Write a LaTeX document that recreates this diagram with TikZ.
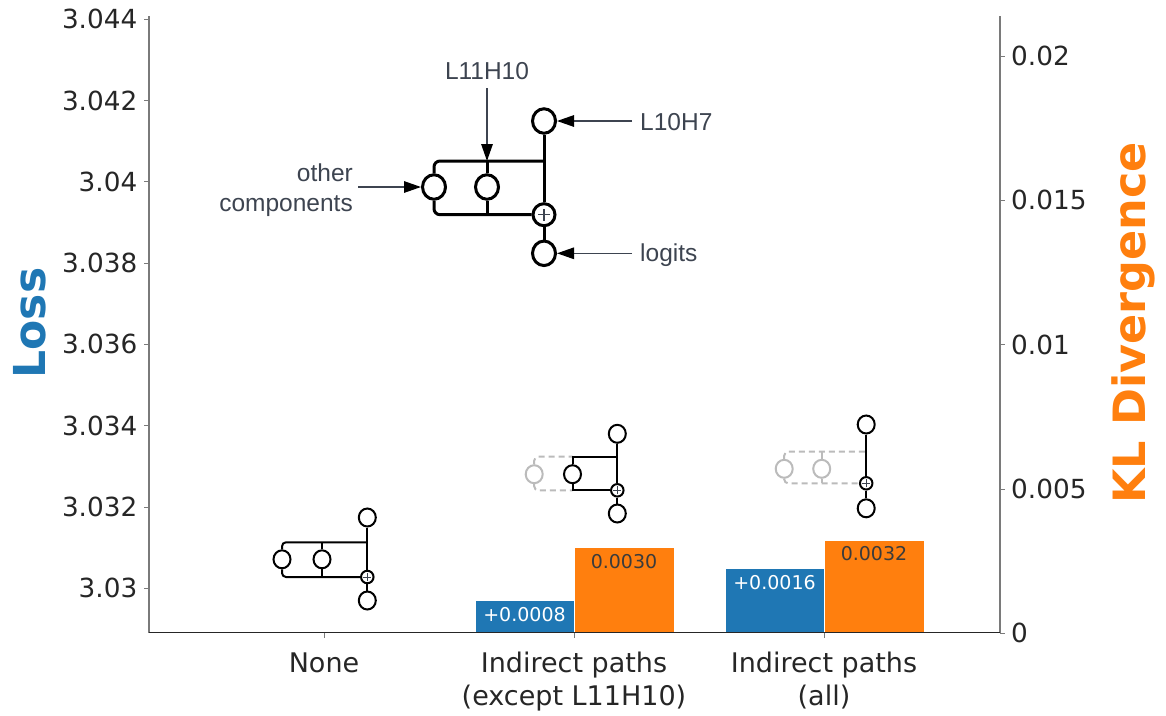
\documentclass[tikz,border=0pt]{standalone}
\usepackage{fontspec}
\setmainfont{DejaVu Sans}
\newfontfamily\diagfont{Liberation Sans}
\usetikzlibrary{shapes.geometric,arrows.meta}

\definecolor{lossblue}{HTML}{1F77B4}
\definecolor{klorange}{HTML}{FF7F0E}
\definecolor{ticktext}{HTML}{262626}
\definecolor{spine}{HTML}{7A7A7A}
\definecolor{ghost}{HTML}{BBBBBB}
\definecolor{annot}{HTML}{3D4450}
\definecolor{barlbl}{HTML}{3B3B3B}

\tikzset{
  spineline/.style={draw=spine, line width=1.1pt},
  baseline axis/.style={draw=ticktext, line width=1.1pt},
  tickmark/.style={draw=spine, line width=1pt},
  ticklbl/.style={text=ticktext, font=\fontsize{26.3}{31}\selectfont, inner sep=0pt},
  catlbl/.style={text=ticktext, font=\fontsize{27}{32}\selectfont, inner sep=0pt, anchor=base},
  barlabel/.style={font=\fontsize{19}{23}\selectfont, inner sep=0pt},
  barbox/.style={draw=white, line width=1pt},
  bigcomp/.style={draw=black, fill=white, ellipse, line width=3pt, minimum width=23pt, minimum height=24.5pt, inner sep=0pt},
  bigadd/.style={draw=black, fill=white, circle, line width=3pt, minimum size=22pt, inner sep=0pt},
  bigwire/.style={draw=black, line width=3pt},
  smallcomp/.style={draw=black, fill=white, ellipse, line width=2pt, minimum width=17pt, minimum height=18pt, inner sep=0pt},
  smalladd/.style={draw=black, fill=white, circle, line width=2pt, minimum size=12.5pt, inner sep=0pt},
  smallwire/.style={draw=black, line width=2pt},
  ghostcomp/.style={smallcomp, draw=ghost},
  ghostwire/.style={draw=ghost, line width=2pt, dash pattern=on 6pt off 4pt},
  ghoststub/.style={draw=ghost, line width=2pt},
  addmark/.style={draw=annot, line width=1.3pt},
  callout/.style={draw=annot, line width=1.4pt, -{Triangle[length=17pt,width=11.5pt,color=black]}},
  annotlbl/.style={text=annot, font=\diagfont\fontsize{24.5}{29}\selectfont, inner sep=0pt},
}

\begin{document}
\begin{tikzpicture}[x=1pt,y=-1pt]
\useasboundingbox (0,0) rectangle (1166,715);

% ---- bars ----
\fill[lossblue]  (475,632.7) rectangle (574,600.7);
\draw[barbox]    (475,632.7) rectangle (574,600.7);
\fill[klorange]  (574,632.7) rectangle (674,547.5);
\draw[barbox]    (574,632.7) rectangle (674,547.5);
\fill[lossblue]  (725,632.7) rectangle (824,568.3);
\draw[barbox]    (725,632.7) rectangle (824,568.3);
\fill[klorange]  (824,632.7) rectangle (924,540);
\draw[barbox]    (824,632.7) rectangle (924,540);

\node[barlabel, text=white]  (v1) at (524.5,614.7) {+0.0008};
\node[barlabel, text=barlbl] (v2) at (624,561.5) {0.0030};
\node[barlabel, text=white]  (v3) at (774.5,582.3) {+0.0016};
\node[barlabel, text=barlbl] (v4) at (874,554) {0.0032};

% ---- axes ----
\draw[spineline] (149,16) -- (149,632.7);
\draw[spineline] (1000,16) -- (1000,632.7);
\draw[baseline axis] (149,632.7) -- (1000,632.7);

\foreach \v/\y [count=\i] in {3.044/19.2, 3.042/100.5, 3.04/181.8, 3.038/263.1,
                              3.036/344.4, 3.034/425.7, 3.032/507, 3.03/588.3} {
  \draw[tickmark] (149,\y) -- (143.5,\y);
  \node[ticklbl, anchor=east] (yl\i) at (137.5,\y) {\v};
}
\foreach \v/\y [count=\i] in {0.02/56.1, 0.015/200.4, 0.01/344.7, 0.005/489, 0/633.3} {
  \draw[tickmark] (1000,\y) -- (1005,\y);
  \node[ticklbl, anchor=west] (yr\i) at (1011,\y) {\v};
}
\foreach \x in {324,574,824} {
  \draw[tickmark] (\x,632.7) -- (\x,638);
}

\node[catlbl] (c1)  at (324,672.5) {None};
\node[catlbl] (c2a) at (574,672.5) {Indirect paths};
\node[catlbl] (c2b) at (574,705.5) {(except L11H10)};
\node[catlbl] (c3a) at (824,672.5) {Indirect paths};
\node[catlbl] (c3b) at (824,705.5) {(all)};

\node[rotate=90, text=lossblue, font=\bfseries\fontsize{44}{50}\selectfont, inner sep=0pt]
  (losslbl) at (30,323) {Loss};
\node[rotate=90, text=klorange, font=\bfseries\fontsize{44.5}{50}\selectfont, inner sep=0pt]
  (kllbl) at (1133,323) {KL Divergence};

% ---- large circuit sketch ----
\coordinate (r1) at (544,161);
\node[bigcomp] (t1) at (544,121) {};
\node[bigadd]  (p1) at (544,214.7) {};
\node[bigcomp] (b1) at (544,253.3) {};
\node[bigcomp] (l1) at (434,187) {};
\node[bigcomp] (m1) at (487,187) {};
\draw[bigwire] (t1.south) -- (p1.north);
\draw[bigwire] (p1.south) -- (b1.north);
\draw[bigwire, rounded corners=6pt] (l1.north) |- (r1);
\draw[bigwire, rounded corners=6pt] (l1.south) |- (p1.west);
\draw[bigwire] (m1.north) -- (m1 |- r1);
\draw[bigwire] (m1.south) -- (m1 |- p1.west);
\draw[addmark] ([xshift=-6pt]p1.center) -- ([xshift=6pt]p1.center);
\draw[addmark] ([yshift=-6pt]p1.center) -- ([yshift=6pt]p1.center);

\node[annotlbl, anchor=base] (n11) at (487,79.6) {L11H10};
\node[annotlbl, anchor=base west] (n10) at (640,130.8) {L10H7};
\node[annotlbl, anchor=base west] (nlg) at (640,261) {logits};
\node[annotlbl, anchor=base east] (noth1) at (353,181.7) {other};
\node[annotlbl, anchor=base east] (noth2) at (353,211.7) {components};

\coordinate (a11) at (487,88);
\coordinate (a10) at (632,121);
\coordinate (alg) at (632,253.3);
\coordinate (aoth) at (358,187);
\draw[callout] (a11) -- (m1 |- r1);
\draw[callout] (a10) -- (t1.east);
\draw[callout] (alg) -- (b1.east);
\draw[callout] (aoth) -- (l1.west);

% ---- small sketch: None ----
\coordinate (r2) at (367.3,542.3);
\node[smallcomp] (t2) at (367.3,517.5) {};
\node[smalladd]  (p2) at (367.3,577) {};
\node[smallcomp] (b2) at (367.3,600.5) {};
\node[smallcomp] (l2) at (282,559.3) {};
\node[smallcomp] (m2) at (322,559.3) {};
\draw[smallwire] (t2.south) -- (p2.north);
\draw[smallwire] (p2.south) -- (b2.north);
\draw[smallwire, rounded corners=4pt] (l2.north) |- (r2);
\draw[smallwire, rounded corners=4pt] (l2.south) |- (p2.west);
\draw[smallwire] (m2.north) -- (m2 |- r2);
\draw[smallwire] (m2.south) -- (m2 |- p2.west);
\draw[addmark, line width=1pt] ([xshift=-4pt]p2.center) -- ([xshift=4pt]p2.center);
\draw[addmark, line width=1pt] ([yshift=-4pt]p2.center) -- ([yshift=4pt]p2.center);

% ---- small sketch: indirect paths except L11H10 ----
\coordinate (r3) at (617.3,456.7);
\node[smallcomp] (t3) at (617.3,433.8) {};
\node[smalladd]  (p3) at (617.3,490.3) {};
\node[smallcomp] (b3) at (617.3,513.5) {};
\node[smallcomp] (m3) at (572.5,474.2) {};
\node[ghostcomp] (l3) at (534.2,474.2) {};
\draw[smallwire] (t3.south) -- (p3.north);
\draw[smallwire] (p3.south) -- (b3.north);
\draw[ghostwire, rounded corners=4pt] (l3.north) |- (m3 |- r3);
\draw[ghostwire, rounded corners=4pt] (l3.south) |- (m3 |- p3.west);
\draw[smallwire] (m3.north) -- (m3 |- r3) -- (r3);
\draw[smallwire] (m3.south) -- (m3 |- p3.west) -- (p3.west);
\draw[addmark, line width=1pt] ([xshift=-4pt]p3.center) -- ([xshift=4pt]p3.center);
\draw[addmark, line width=1pt] ([yshift=-4pt]p3.center) -- ([yshift=4pt]p3.center);

% ---- small sketch: all indirect paths ----
\coordinate (r4) at (866.2,451.7);
\node[smallcomp] (t4) at (866.2,424.5) {};
\node[smalladd]  (p4) at (866.2,483.3) {};
\node[smallcomp] (b4) at (866.2,508.3) {};
\node[ghostcomp] (m4) at (821.7,468.8) {};
\node[ghostcomp] (l4) at (784.2,468.8) {};
\draw[ghostwire, rounded corners=4pt] (l4.north) |- (r4);
\draw[ghostwire, rounded corners=4pt] (l4.south) |- (p4.west);
\draw[ghoststub] (m4.north) -- (m4 |- r4);
\draw[ghoststub] (m4.south) -- (m4 |- p4.west);
\draw[smallwire] (t4.south) -- (p4.north);
\draw[smallwire] (p4.south) -- (b4.north);
\draw[addmark, line width=1pt] ([xshift=-4pt]p4.center) -- ([xshift=4pt]p4.center);
\draw[addmark, line width=1pt] ([yshift=-4pt]p4.center) -- ([yshift=4pt]p4.center);
\end{tikzpicture}
\end{document}
